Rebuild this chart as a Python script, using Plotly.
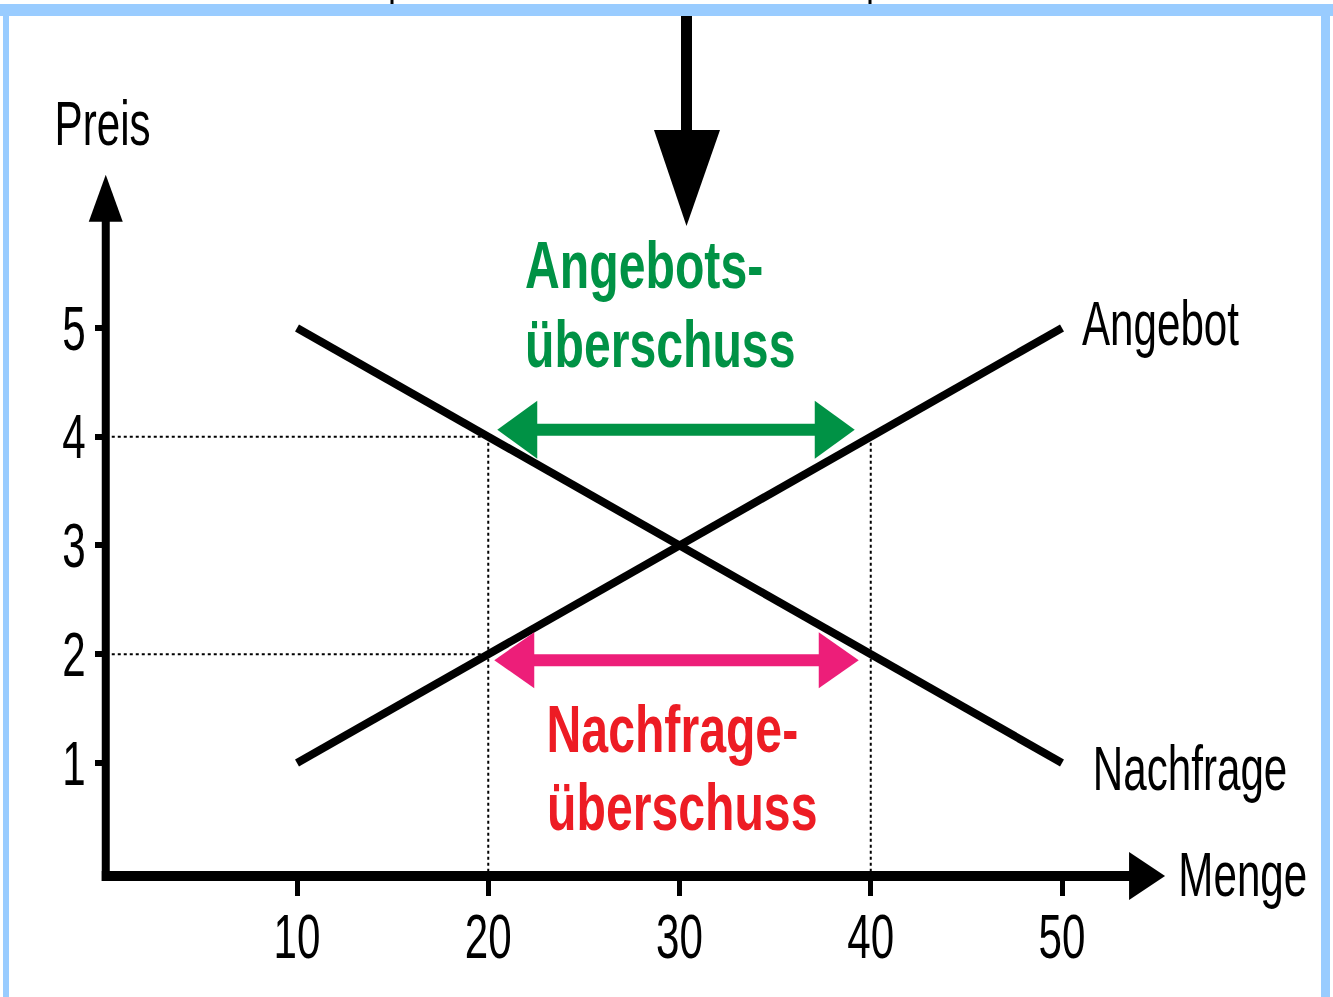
import plotly.graph_objects as go

# --- data ---
quantity = [10, 20, 30, 40, 50]
demand_price = [5, 4, 3, 2, 1]
supply_price = [1, 2, 3, 4, 5]
price_ticks = [1, 2, 3, 4, 5]
quantity_labels = ["10", "20", "30", "40", "50"]
price_labels = ["1", "2", "3", "4", "5"]
high_price = 4   # Angebotsüberschuss
low_price = 2    # Nachfrageüberschuss

W, H = 1333, 997
XR = [-5.53, 64.17]
YR = [-1.152, 8.016]
XS = W / (XR[1] - XR[0])   # px per unit
YS = H / (YR[1] - YR[0])

FONT = "Liberation Sans, Arial, sans-serif"
GREEN = "#009245"
PINK = "#ED1E79"
RED = "#ED1C24"
FRAME = "#99CCFF"


def q_at(prices, p):
    return quantity[prices.index(p)]


def px(x):
    return x / W


def py(y):
    return 1 - y / H


def triangle(pts, color, ref="data"):
    path = "M " + " L ".join(f"{a},{b}" for a, b in pts) + " Z"
    d = dict(type="path", path=path, fillcolor=color, line=dict(width=0), layer="above")
    if ref == "paper":
        d.update(xref="paper", yref="paper")
    return d


def double_arrow(x0, x1, y, color, head_len, head_half, shaft_w):
    hl = head_len / XS
    hh = head_half / YS
    return [
        dict(type="line", x0=x0 + hl * 0.9, x1=x1 - hl * 0.9, y0=y, y1=y,
             line=dict(color=color, width=shaft_w), layer="above"),
        triangle([(x0, y), (x0 + hl, y + hh), (x0 + hl, y - hh)], color),
        triangle([(x1, y), (x1 - hl, y + hh), (x1 - hl, y - hh)], color),
    ]


fig = go.Figure()

# dotted guide lines
for p, q_end in [(high_price, q_at(demand_price, high_price)),
                 (low_price, q_at(supply_price, low_price))]:
    fig.add_trace(go.Scatter(x=[0, q_end], y=[p, p], mode="lines",
                             line=dict(color="black", width=2, dash="dot"),
                             hoverinfo="skip", showlegend=False))
for q in [q_at(demand_price, high_price), q_at(supply_price, high_price)]:
    fig.add_trace(go.Scatter(x=[q, q], y=[high_price, 0], mode="lines",
                             line=dict(color="black", width=2, dash="dot"),
                             hoverinfo="skip", showlegend=False))

# demand and supply
fig.add_trace(go.Scatter(x=quantity, y=demand_price, mode="lines",
                         line=dict(color="black", width=8), name="Nachfrage",
                         showlegend=False))
fig.add_trace(go.Scatter(x=quantity, y=supply_price, mode="lines",
                         line=dict(color="black", width=8), name="Angebot",
                         showlegend=False))

shapes = []

# axes with arrow heads
ax0 = 0.0
ay0 = -0.04
x_tip = 55.39
y_tip = 6.41
shapes.append(dict(type="line", x0=ax0 - 4 / XS, x1=x_tip - 34 / XS, y0=ay0, y1=ay0,
                   line=dict(color="black", width=10)))
shapes.append(triangle([(x_tip, ay0), (x_tip - 36 / XS, ay0 + 24 / YS),
                        (x_tip - 36 / XS, ay0 - 24 / YS)], "black"))
shapes.append(dict(type="line", x0=ax0, x1=ax0, y0=ay0 - 5 / YS, y1=y_tip - 46 / YS,
                   line=dict(color="black", width=8)))
shapes.append(triangle([(ax0, y_tip), (ax0 - 17 / XS, y_tip - 47 / YS),
                        (ax0 + 17 / XS, y_tip - 47 / YS)], "black"))

# excess arrows
g_left = q_at(demand_price, high_price)
g_right = q_at(supply_price, high_price)
shapes += double_arrow(g_left + 9 / XS, g_right - 16 / XS, high_price + 7 / YS,
                       GREEN, 40, 29, 12)
r_left = q_at(supply_price, low_price)
r_right = q_at(demand_price, low_price)
shapes += double_arrow(r_left + 6 / XS, r_right - 12 / XS, low_price - 6 / YS,
                       PINK, 40, 28, 12)

# frame of the slide
shapes.append(dict(type="rect", xref="paper", yref="paper", x0=0, x1=1,
                   y0=py(16), y1=py(4), fillcolor=FRAME, line=dict(width=0)))
shapes.append(dict(type="rect", xref="paper", yref="paper", x0=px(3), x1=px(9),
                   y0=0, y1=py(16), fillcolor=FRAME, line=dict(width=0)))
shapes.append(dict(type="rect", xref="paper", yref="paper", x0=px(1321), x1=px(1330),
                   y0=0, y1=py(16), fillcolor=FRAME, line=dict(width=0)))
for xm in [392, 870]:
    shapes.append(dict(type="rect", xref="paper", yref="paper", x0=px(xm - 1.5),
                       x1=px(xm + 1.5), y0=py(4), y1=1, fillcolor="black",
                       line=dict(width=0)))

# big arrow from above
shapes.append(dict(type="rect", xref="paper", yref="paper", x0=px(681), x1=px(692),
                   y0=py(132), y1=py(16), fillcolor="black", line=dict(width=0)))
shapes.append(triangle([(px(654), py(130)), (px(720), py(130)), (px(686.5), py(226))],
                       "black", ref="paper"))

annotations = []


def label(text, x, y, size, color="black", bold=False):
    if bold:
        text = f"<b>{text}</b>"
    annotations.append(dict(text=text, x=x, y=y, xref="x", yref="y", showarrow=False,
                            xanchor="center", yanchor="middle",
                            font=dict(family=FONT, size=size, color=color)))


label("Preis", -0.17, 6.88, 62)
label("Menge", 59.44, -0.03, 62)
label("Angebot", 55.13, 5.04, 62)
label("Nachfrage", 56.7, 0.95, 62)
label("Angebots-", 28.14, 5.575, 66, GREEN, True)
label("überschuss", 29.0, 4.85, 66, GREEN, True)
label("Nachfrage-", 29.63, 1.317, 66, RED, True)
label("überschuss", 30.13, 0.595, 66, RED, True)

fig.update_layout(
    width=W,
    height=H,
    margin=dict(l=0, r=0, t=0, b=0),
    plot_bgcolor="white",
    paper_bgcolor="white",
    showlegend=False,
    shapes=shapes,
    annotations=annotations,
    xaxis=dict(
        range=XR,
        showgrid=False,
        zeroline=False,
        showline=False,
        anchor="free",
        position=py(876),
        tickmode="array",
        tickvals=quantity,
        ticktext=quantity_labels,
        ticks="outside",
        ticklen=19,
        tickwidth=5,
        tickcolor="black",
        ticklabelstandoff=-12,
        tickfont=dict(family=FONT, size=62, color="black"),
    ),
    yaxis=dict(
        range=YR,
        showgrid=False,
        zeroline=False,
        showline=False,
        anchor="free",
        position=px(102),
        tickmode="array",
        tickvals=price_ticks,
        ticktext=price_labels,
        ticks="outside",
        ticklen=7,
        tickwidth=6,
        tickcolor="black",
        ticklabelstandoff=-3,
        tickfont=dict(family=FONT, size=62, color="black"),
    ),
)

# the slide uses a horizontally condensed Arial: squeeze the svg text
condense = """
document.body.style.margin = '0';
var gd = document.getElementById('{plot_id}');
gd.querySelectorAll('text').forEach(function (t) {
    var b = t.getBBox();
    if (!b.width) { return; }
    var a = t.getAttribute('text-anchor') || 'start';
    var cx = a === 'middle' ? b.x + b.width / 2 : (a === 'end' ? b.x + b.width : b.x);
    var k = t.innerHTML.indexOf('bold') >= 0 ? 0.73 : 0.68;
    var tr = t.getAttribute('transform') || '';
    t.setAttribute('transform', tr + ' translate(' + cx + ',0) scale(' + k + ',1) translate(' + (-cx) + ',0)');
});
"""

fig.write_html("out.html", config={"displayModeBar": False}, post_script=condense)
